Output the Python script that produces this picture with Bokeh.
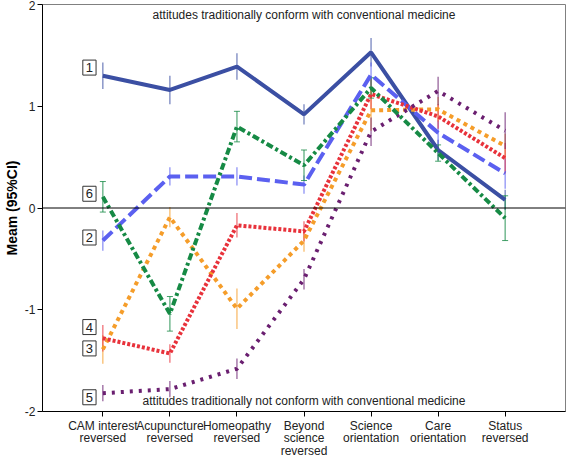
from bokeh.plotting import figure
from bokeh.models import Span, Label, FixedTicker
from bokeh.embed import file_html
from bokeh.resources import INLINE

categories = ["CAM interest\nreversed", "Acupuncture\nreversed", "Homeopathy\nreversed",
              "Beyond\nscience\nreversed", "Science\norientation", "Care\norientation",
              "Status\nreversed"]

s1 = [1.30, 1.16, 1.39, 0.92, 1.53, 0.57, 0.08]
e1 = [0.13, 0.14, 0.13, 0.10, 0.14, 0.10, 0.10]
s2 = [-0.32, 0.31, 0.31, 0.23, 1.31, 0.74, 0.34]
e2 = [0.10, 0.09, 0.09, 0.09, 0.12, 0.12, 0.15]
s3 = [-1.39, -0.09, -0.99, -0.32, 0.96, 0.97, 0.61]
e3 = [0.14, 0.10, 0.20, 0.11, 0.20, 0.12, 0.12]
s4 = [-1.28, -1.43, -0.17, -0.23, 1.12, 0.90, 0.49]
e4 = [0.13, 0.09, 0.12, 0.10, 0.15, 0.12, 0.15]
s5 = [-1.82, -1.78, -1.58, -0.70, 0.75, 1.15, 0.76]
e5 = [0.08, 0.08, 0.10, 0.10, 0.14, 0.14, 0.18]
s6 = [0.11, -1.04, 0.80, 0.42, 1.18, 0.54, -0.10]
e6 = [0.15, 0.17, 0.15, 0.15, 0.10, 0.08, 0.22]

series_names = ["1", "2", "3", "4", "5", "6"]
series_vals = [s1, s2, s3, s4, s5, s6]
series_errs = [e1, e2, e3, e4, e5, e6]
colors = ["#3b4fa3", "#5b60f0", "#f59d2a", "#e8323b", "#6a1f70", "#168a45"]
dashes = ["solid", "13 5", "4 4", "3 2", "3 6", "7 3 3 3"]
label_y = [1.38, -0.29, -1.38, -1.17, -1.86, 0.14]

top_text = "attitudes traditionally conform with conventional medicine"
bottom_text = "attitudes traditionally not conform with conventional medicine"

FONT = "Liberation Sans"

p = figure(width=567, height=460, x_range=(-0.9, 6.9), y_range=(-2, 2),
           output_backend="svg", toolbar_location=None,
           min_border_left=30, min_border_right=2, min_border_top=4, min_border_bottom=0)
p.grid.visible = False
p.outline_line_color = "#808080"
p.background_fill_color = "white"

xs = list(range(len(categories)))

p.add_layout(Span(location=0, dimension="width", line_color="black", line_width=1))

for vals, errs, col, dash in zip(series_vals, series_errs, colors, dashes):
    lo = [v - e for v, e in zip(vals, errs)]
    hi = [v + e for v, e in zip(vals, errs)]
    p.segment(x0=xs, y0=lo, x1=xs, y1=hi, line_color=col, line_alpha=0.75, line_width=1.2)
    if col == "#168a45":
        p.scatter(x=xs + xs, y=lo + hi, marker="dash", size=6, line_color=col, line_alpha=0.8)

for vals, col, dash in zip(series_vals, colors, dashes):
    p.line(x=xs, y=vals, line_color=col, line_width=4, line_dash=dash, line_cap="butt")

for name, ly in zip(series_names, label_y):
    p.add_layout(Label(x=-0.2, y=ly, text=name, text_align="center", text_baseline="middle",
                       text_font=FONT, text_font_size="13px", text_color="#222222",
                       border_line_color="#333333", background_fill_color="white", padding=3))

p.add_layout(Label(x=3, y=1.9, text=top_text, text_align="center", text_baseline="middle",
                   text_font=FONT, text_font_size="12px", text_color="#222222"))
p.add_layout(Label(x=3, y=-1.9, text=bottom_text, text_align="center", text_baseline="middle",
                   text_font=FONT, text_font_size="12px", text_color="#222222"))

p.xaxis.ticker = FixedTicker(ticks=xs)
p.xaxis.major_label_overrides = {i: c for i, c in enumerate(categories)}
p.yaxis.ticker = FixedTicker(ticks=[-2, -1, 0, 1, 2])
p.yaxis.major_label_overrides = {-2: "-2", -1: "-1", 0: "0", 1: "1", 2: "2"}

for ax in (p.xaxis[0], p.yaxis[0]):
    ax.axis_line_color = "black"
    ax.major_tick_line_color = "black"
    ax.major_tick_in = 0
    ax.major_tick_out = 5
    ax.minor_tick_line_color = None
    ax.major_label_text_font = FONT
    ax.major_label_text_font_size = "12px"
    ax.major_label_text_color = "#222222"
    ax.major_label_standoff = 2

p.xaxis.major_label_text_line_height = 0.9

p.yaxis.axis_label = "Meam (95%CI)"
p.yaxis.axis_label_text_font = FONT
p.yaxis.axis_label_text_font_style = "bold"
p.yaxis.axis_label_text_font_size = "14px"
p.yaxis.axis_label_text_color = "black"
p.yaxis.axis_label_standoff = 2

open("out.html", "w").write(file_html(p, INLINE))
